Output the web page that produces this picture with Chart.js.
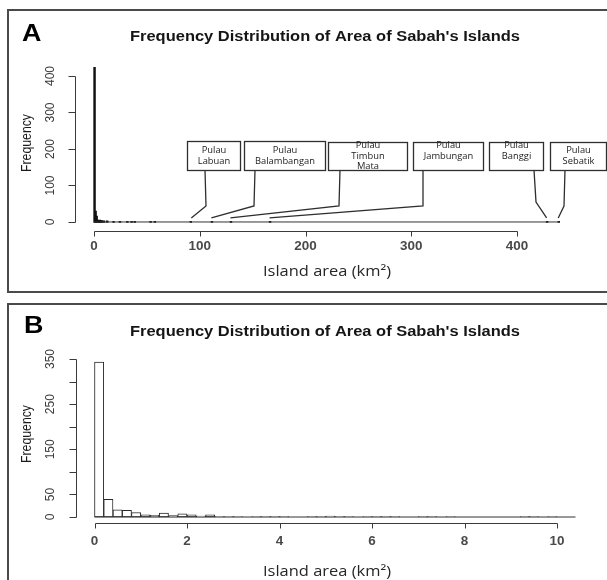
<!DOCTYPE html>
<html>
<head>
<meta charset="utf-8">
<script src="https://cdn.jsdelivr.net/npm/chart.js@4.4.0/dist/chart.umd.min.js"></script>
<style>
html, body { margin: 0; padding: 0; overflow: hidden; background: #fff; }
body { position: relative; width: 607px; height: 580px; }
.frame { position: absolute; border: 2px solid #4a4a4a; box-sizing: border-box; }
canvas { position: absolute; left: 0; }
</style>
</head>
<body>
<div class="frame" style="left:7px;top:9px;width:640px;height:284px"></div>
<div class="frame" style="left:7px;top:303px;width:640px;height:300px"></div>
<canvas id="histA" width="607" height="292" style="top:0"></canvas>
<canvas id="histB" width="607" height="288" style="top:292px"></canvas>
<script>
// panel A : bins of 1 km2, only the bins that hold islands
var aBinStart = [0, 1, 2, 3, 4, 5, 6, 7, 9, 12, 18, 24, 31, 35, 38, 53, 57, 91, 111, 129, 166, 428, 439];
var aCounts   = [423, 29, 15, 4, 3, 4, 3, 3, 2, 2, 1, 1, 1, 1, 1, 1, 1, 1, 1, 1, 1, 1, 1];
var aBinWidth = 1;
var aRange = [0, 440];
var aXTicks = [0, 100, 200, 300, 400];
var aYTicks = [0, 100, 200, 300, 400];
var aYLabels = ['0', '100', '200', '300', '400'];

// panel B : bins of 0.2 km2 from 0 to 10.4
var bBinWidth = 0.2;
var bCounts = [343, 39, 16, 15, 10, 5, 4, 9, 3, 7,
               5, 2, 5, 1, 1, 1, 0, 1, 1, 1,
               1, 0, 0, 1, 1, 2, 1, 1, 0, 1,
               1, 1, 1, 0, 0, 1, 1, 0, 1, 0,
               0, 0, 0, 0, 0, 0, 1, 1, 0, 1,
               0, 0];
var bXTicks = [0, 2, 4, 6, 8, 10];
var bYTicks = [0, 50, 100, 150, 200, 250, 300, 350];
var bYLabels = ['0', '50', '', '150', '', '250', '', '350'];

// the big islands pointed at in panel A
var islandNames = ['Pulau Labuan', 'Pulau Balambangan', 'Pulau Timbun Mata', 'Pulau Jambungan', 'Pulau Banggi', 'Pulau Sebatik'];
var islandAreas = [92, 111, 129, 166, 428, 439];

var titleText = "Frequency Distribution of Area of Sabah's Islands";

// where the callout boxes sit (pixels)
var calloutLayout = [
    {x: 187, y: 141, w: 53, h: 29, textY: 151, topX: 205, bendX: 206, bendY: 206},
    {x: 244, y: 141, w: 81, h: 29, textY: 151, topX: 255, bendX: 254, bendY: 206},
    {x: 328, y: 142, w: 79, h: 28, textY: 146, topX: 340, bendX: 339, bendY: 206},
    {x: 413, y: 142, w: 70, h: 28, textY: 146, topX: 423, bendX: 423, bendY: 206},
    {x: 489, y: 142, w: 54, h: 28, textY: 146, topX: 534, bendX: 536, bendY: 202},
    {x: 550, y: 142, w: 56, h: 28, textY: 151, topX: 565, bendX: 564, bendY: 206}
];

function putText(ctx, txt, x, y, font, color, opt) {
    opt = opt || {};
    ctx.save();
    ctx.font = font;
    ctx.fillStyle = color;
    ctx.textBaseline = 'middle';
    ctx.textAlign = opt.align || 'center';
    ctx.translate(x, y);
    if (opt.rotate) ctx.rotate(opt.rotate);
    var sx = opt.sx || 1;
    if (opt.width) sx = opt.width / ctx.measureText(txt).width;
    ctx.scale(sx, opt.sy || 1);
    ctx.fillText(txt, 0, 0);
    ctx.restore();
}

// R base graphics look: detached axes, rotated y labels, titles
function rStyle(cfg) {
    return {
        id: 'rStyle' + cfg.letter,
        afterDraw: function (chart) {
            var ctx = chart.ctx, xs = chart.scales.x, ys = chart.scales.y, area = chart.chartArea;
            ctx.save();
            ctx.strokeStyle = '#3a3a3a';
            ctx.lineWidth = 1;
            ctx.beginPath();
            var by = Math.round(area.bottom) + 0.5;
            ctx.moveTo(Math.round(xs.getPixelForValue(cfg.xTicks[0])) + 0.5, by);
            ctx.lineTo(Math.round(xs.getPixelForValue(cfg.xTicks[cfg.xTicks.length - 1])) + 0.5, by);
            cfg.xTicks.forEach(function (t) {
                var px = Math.round(xs.getPixelForValue(t)) + 0.5;
                ctx.moveTo(px, by);
                ctx.lineTo(px, by + 5);
            });
            var lx = Math.round(area.left) + 0.5;
            ctx.moveTo(lx, Math.round(ys.getPixelForValue(cfg.yTicks[0])) + 0.5);
            ctx.lineTo(lx, Math.round(ys.getPixelForValue(cfg.yTicks[cfg.yTicks.length - 1])) + 0.5);
            cfg.yTicks.forEach(function (t) {
                var py = Math.round(ys.getPixelForValue(t)) + 0.5;
                ctx.moveTo(lx, py);
                ctx.lineTo(lx - 7, py);
            });
            ctx.stroke();
            ctx.restore();

            cfg.xTicks.forEach(function (t) {
                putText(ctx, String(t), xs.getPixelForValue(t), cfg.xLabelY, 'bold 12px "Liberation Sans"', '#4a4a4a', {sx: 1.12});
            });
            cfg.yTicks.forEach(function (t, i) {
                if (cfg.yLabels[i]) {
                    putText(ctx, cfg.yLabels[i], 50, ys.getPixelForValue(t), '12px "Liberation Sans"', '#3a3a3a', {rotate: -Math.PI / 2, sy: 1.1});
                }
            });
            putText(ctx, cfg.letter, cfg.letterX, cfg.letterY, 'bold 24px "Liberation Sans"', '#000', {align: 'left', sx: 1.12});
            putText(ctx, titleText, 325, cfg.titleY, 'bold 14px "Liberation Sans"', '#151515', {width: 390});
            putText(ctx, 'Frequency', 27, cfg.freqY, '14px "Liberation Sans"', '#1a1a1a', {rotate: -Math.PI / 2, width: 58, sy: 1.1});
            putText(ctx, 'Island area (km\u00b2)', 327, cfg.xTitleY, '14px "Open Sans"', '#262626', {width: 128});

            if (cfg.callouts) drawCallouts(chart);
        }
    };
}

function drawCallouts(chart) {
    var ctx = chart.ctx, xs = chart.scales.x, ys = chart.scales.y;
    var tipY = ys.getPixelForValue(0) - 4;
    ctx.save();
    ctx.strokeStyle = '#2e2e2e';
    ctx.lineWidth = 1.3;
    calloutLayout.forEach(function (b, i) {
        ctx.beginPath();
        ctx.moveTo(b.topX, b.y + b.h);
        ctx.lineTo(b.bendX, b.bendY);
        ctx.lineTo(xs.getPixelForValue(islandAreas[i]), tipY);
        ctx.stroke();
        ctx.fillStyle = '#fff';
        ctx.fillRect(b.x, b.y, b.w, b.h);
        ctx.strokeRect(b.x + 0.5, b.y + 0.5, b.w, b.h);
        islandNames[i].split(' ').forEach(function (word, k) {
            putText(ctx, word, b.x + b.w / 2 + 0.5, b.textY + k * 10.5, '8.5px "Open Sans"', '#222', {sx: 1.1});
        });
    });
    ctx.restore();
}

new Chart(document.getElementById('histA'), {
    type: 'bar',
    data: {
        datasets: [{
            type: 'line',
            data: [{x: aRange[0], y: 0}, {x: aRange[1], y: 0}],
            borderColor: '#333',
            borderWidth: 1,
            pointRadius: 0
        }, {
            data: aBinStart.map(function (s, i) { return {x: s + aBinWidth / 2, y: aCounts[i]}; }),
            backgroundColor: '#111',
            borderWidth: 0,
            inflateAmount: 0.7,
            barPercentage: 1,
            categoryPercentage: 1,
            grouped: false
        }]
    },
    options: {
        responsive: false,
        animation: false,
        layout: {padding: {left: 75, right: 5.4, top: 61.4, bottom: 60.9}},
        plugins: {legend: {display: false}, tooltip: {enabled: false}},
        scales: {
            x: {type: 'linear', min: -18, max: 480, display: false, offset: false},
            y: {min: -25, max: 440, display: false}
        }
    },
    plugins: [rStyle({letter: 'A', letterX: 22, letterY: 34, titleY: 37, xLabelY: 247, xTitleY: 272, freqY: 143,
        xTicks: aXTicks, yTicks: aYTicks, yLabels: aYLabels, callouts: true})]
});

new Chart(document.getElementById('histB'), {
    type: 'bar',
    data: {
        datasets: [{
            type: 'line',
            data: [{x: 0, y: 0}, {x: bCounts.length * bBinWidth, y: 0}],
            borderColor: '#333',
            borderWidth: 1,
            pointRadius: 0
        }, {
            data: bCounts.map(function (c, i) { return {x: (i + 0.5) * bBinWidth, y: c}; }),
            backgroundColor: '#fff',
            borderColor: '#2a2a2a',
            borderWidth: 1,
            borderSkipped: false,
            barPercentage: 1,
            categoryPercentage: 1,
            grouped: false
        }]
    },
    options: {
        responsive: false,
        animation: false,
        layout: {padding: {left: 76, right: 3.75, top: 62.5, bottom: 57.1}},
        plugins: {legend: {display: false}, tooltip: {enabled: false}},
        scales: {
            x: {type: 'linear', min: -0.4, max: 11, display: false, offset: false},
            y: {min: -13, max: 360, display: false}
        }
    },
    plugins: [rStyle({letter: 'B', letterX: 24, letterY: 34.5, titleY: 40, xLabelY: 250, xTitleY: 280, freqY: 142,
        xTicks: bXTicks, yTicks: bYTicks, yLabels: bYLabels, callouts: false})]
});
</script>
</body>
</html>
